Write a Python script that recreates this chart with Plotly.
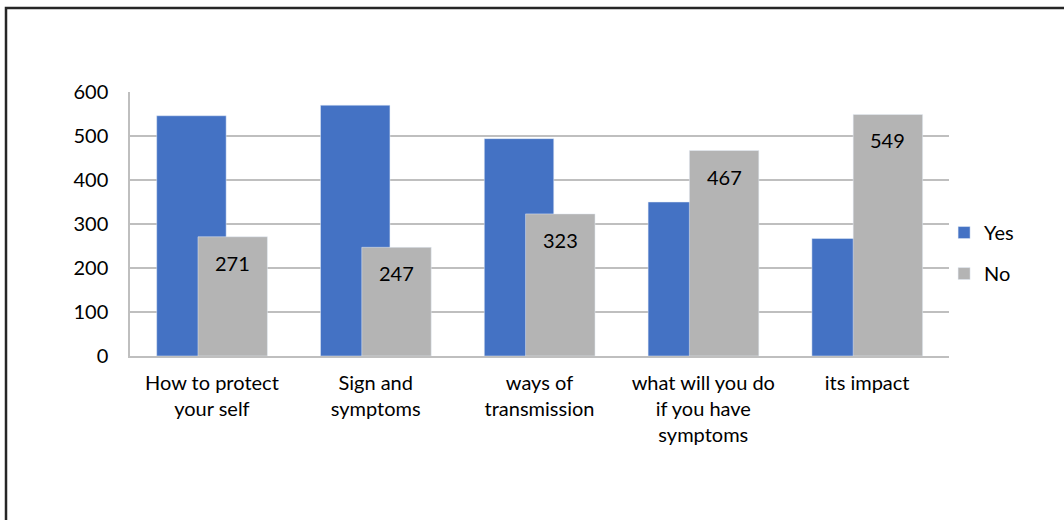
import plotly.graph_objects as go

categories = ["How to protect<br>your self", "Sign and<br>symptoms", "ways of<br>transmission",
              "what will you do<br>if you have<br>symptoms", "its impact"]
yes_values = [546, 570, 494, 350, 267]
no_values = [271, 247, 323, 467, 549]
y_ticks = [0, 100, 200, 300, 400, 500, 600]

FONT = "Lato"
FS = 20
BAR_W = 0.424
YES_OFF = -0.337
NO_OFF = -0.085

fig = go.Figure()
fig.add_trace(go.Bar(x=categories, y=yes_values, name="Yes", marker_color="#4472C4",
                     offset=YES_OFF, width=BAR_W, legendgroup="a"))
fig.add_trace(go.Bar(x=categories, y=no_values, name="No", marker_color="#B4B4B4",
                     offset=NO_OFF, width=BAR_W, legendgroup="b"))

for i, v in enumerate(no_values):
    fig.add_annotation(x=i + NO_OFF + BAR_W / 2, y=v, xref="x", yref="y", text=str(v),
                       showarrow=False, yanchor="top", yshift=-12,
                       font=dict(family=FONT, size=FS, color="#000000"))

# outer frame
fig.add_shape(type="rect", xref="paper", yref="paper", x0=-0.1514, x1=1.3, y0=-1.0, y1=1.318,
              line=dict(color="#262626", width=2.5), fillcolor="rgba(0,0,0,0)", layer="above")

fig.update_layout(
    width=1064, height=520,
    margin=dict(l=130, r=115, t=92, b=164),
    paper_bgcolor="white", plot_bgcolor="white",
    barmode="overlay",
    font=dict(family=FONT, size=FS, color="#000000"),
    showlegend=True,
    legend=dict(x=0.994, y=0.39, xanchor="left", yanchor="middle",
                traceorder="grouped", tracegroupgap=12,
                font=dict(family=FONT, size=FS, color="#000000"),
                itemwidth=30, bgcolor="rgba(0,0,0,0)"),
    xaxis=dict(type="category", showgrid=False, showline=True, linecolor="#BFBFBF",
               linewidth=1.5, ticks="", ticklabelstandoff=8,
               tickfont=dict(family=FONT, size=FS, color="#000000"),
               range=[-0.5, 4.5], fixedrange=True),
    yaxis=dict(range=[0, 600], tickvals=y_ticks, showgrid=True, gridcolor="#BFBFBF",
               gridwidth=1.5, showline=True, linecolor="#BFBFBF", linewidth=1.5,
               zeroline=False, ticks="", ticklabelstandoff=16,
               tickfont=dict(family=FONT, size=FS, color="#000000")),
)

fig.write_html("out.html")
